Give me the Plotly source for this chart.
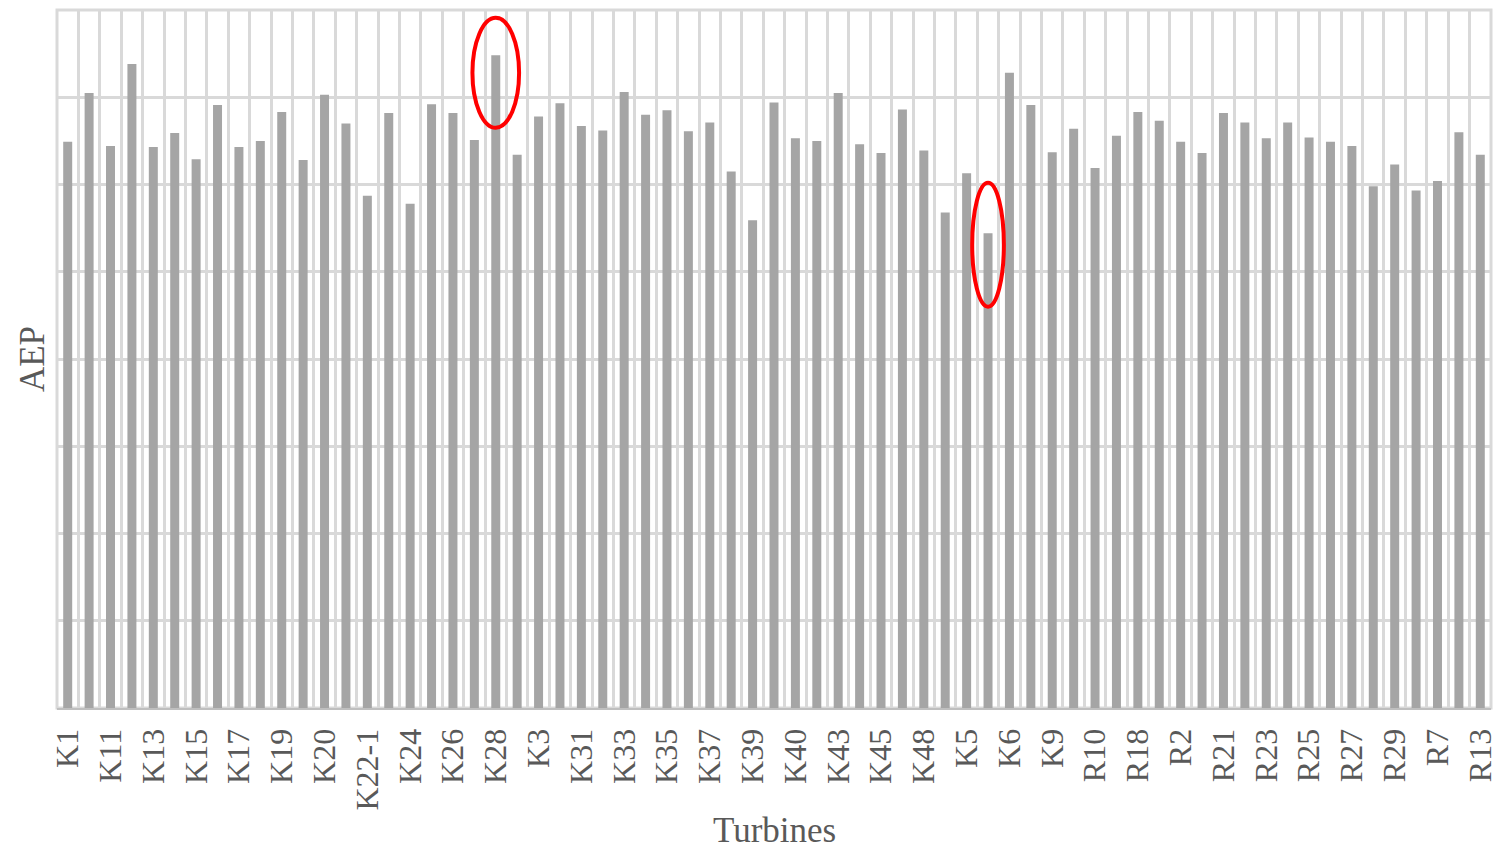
import plotly.graph_objects as go

turbines = ["K1", "K10", "K11", "K12", "K13", "K14", "K15", "K16", "K17", "K18",
            "K19", "K2", "K20", "K21", "K22-1", "K23", "K24", "K25", "K26", "K27",
            "K28", "K29", "K3", "K30", "K31", "K32", "K33", "K34", "K35", "K36",
            "K37", "K38", "K39", "K4", "K40", "K41", "K43", "K44", "K45", "K46",
            "K48", "K49", "K5", "K50", "K6", "K7", "K9", "R1", "R10", "R17",
            "R18", "R19", "R2", "R20", "R21", "R22", "R23", "R24", "R25", "R26",
            "R27", "R28", "R29", "R3", "R7", "R8", "R13"]

aep = [6.49, 7.05, 6.44, 7.38, 6.43, 6.59, 6.29, 6.91, 6.43, 6.50,
       6.83, 6.28, 7.03, 6.70, 5.87, 6.82, 5.78, 6.92, 6.82, 6.51,
       7.48, 6.34, 6.78, 6.93, 6.67, 6.62, 7.06, 6.80, 6.85, 6.61,
       6.71, 6.15, 5.59, 6.94, 6.53, 6.50, 7.05, 6.46, 6.36, 6.86,
       6.39, 5.68, 6.13, 5.44, 7.28, 6.91, 6.37, 6.64, 6.19, 6.56,
       6.83, 6.73, 6.49, 6.36, 6.82, 6.71, 6.53, 6.71, 6.54, 6.49,
       6.44, 5.98, 6.23, 5.93, 6.04, 6.60, 6.34]

highlighted = ["K28", "K50"]

tick_text = [t if i % 2 == 0 else "" for i, t in enumerate(turbines)]

FONT = "Liberation Serif, Times New Roman, serif"
TXT = "#595959"
GRID = "#d9d9d9"

fig = go.Figure()
fig.add_trace(go.Bar(x=turbines, y=aep, marker=dict(color="#a5a5a5", line=dict(width=0)),
                     width=0.42, showlegend=False))

# plot-area border (same style as gridlines)
fig.add_shape(type="rect", xref="paper", yref="paper", x0=0, x1=1, y0=0, y1=1,
              line=dict(color=GRID, width=3), fillcolor="rgba(0,0,0,0)", layer="below")

# red ellipses around highlighted turbines
ell = {"K28": (1.09, 0.83, 0.43), "K50": (0.74, 0.84, 0.58)}
for name in highlighted:
    i = turbines.index(name)
    hw, dn, up = ell[name]
    v = aep[i]
    fig.add_shape(type="circle", xref="x", yref="y",
                  x0=i - hw, x1=i + hw, y0=v - dn, y1=v + up,
                  line=dict(color="#ff0000", width=4), fillcolor="rgba(0,0,0,0)")

# x-axis title
fig.add_annotation(text="Turbines", xref="paper", yref="paper", x=0.5, y=-0.2055,
                   xanchor="center", yanchor="bottom", showarrow=False, borderpad=0,
                   font=dict(family=FONT, size=35, color=TXT))

fig.update_layout(
    width=1503, height=852,
    margin=dict(l=57, r=12, t=10, b=144),
    plot_bgcolor="white", paper_bgcolor="white",
    font=dict(family=FONT, color=TXT, size=32),
    xaxis=dict(
        type="category", automargin=False,
        tickmode="array", tickvals=turbines, ticktext=tick_text,
        tickson="boundaries", ticks="", tickangle=-90,
        tickfont=dict(family=FONT, size=32, color=TXT),
        ticklabelstandoff=6,
        showgrid=True, gridcolor=GRID, gridwidth=3,
        showline=True, linecolor="#bfbfbf", linewidth=2,
        range=[-0.5, len(turbines) - 0.5],
    ),
    yaxis=dict(
        automargin=False,
        range=[0, 8], dtick=1, tick0=0,
        showticklabels=False, ticks="",
        showgrid=True, gridcolor=GRID, gridwidth=3,
        zeroline=False, showline=False,
        title=dict(text="AEP", font=dict(family=FONT, size=35, color=TXT), standoff=0),
    ),
)

fig.write_html("out.html", config={"displayModeBar": False},
               post_script="document.body.style.margin='0';document.body.style.overflow='hidden';")
